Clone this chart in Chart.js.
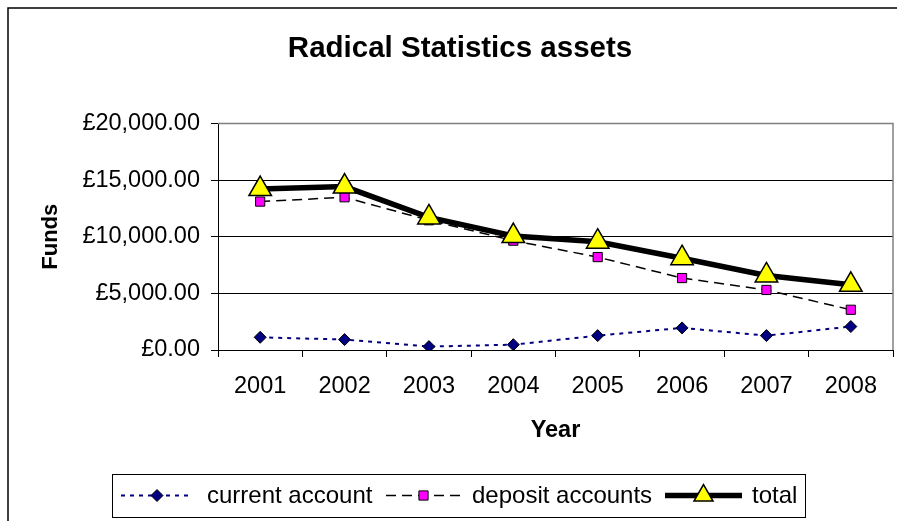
<!DOCTYPE html>
<html>
<head>
<meta charset="utf-8">
<title>Radical Statistics assets</title>
<script src="https://cdn.jsdelivr.net/npm/chart.js@4"></script>
<style>
  html, body { margin: 0; padding: 0; background: #fff; overflow: hidden; }
  #wrap { position: relative; width: 912px; height: 521px; }
</style>
</head>
<body>
<div id="wrap"><canvas id="assets"></canvas></div>
<script>
// chart data
const years = ['2001', '2002', '2003', '2004', '2005', '2006', '2007', '2008'];
const currentAccount = [1120, 920, 300, 470, 1270, 1950, 1270, 2070];
const depositAccounts = [13100, 13480, 11450, 9650, 8200, 6350, 5300, 3550];
const totalFunds = [14200, 14420, 11700, 10060, 9560, 8100, 6580, 5750];
const yTickValues = [0, 5000, 10000, 15000, 20000];
const seriesNames = ['current account', 'deposit accounts', 'total'];

const FONT = "'Liberation Sans', Arial, sans-serif";

function money(v) {
    return '£' + Number(v).toLocaleString('en-GB', { minimumFractionDigits: 2, maximumFractionDigits: 2 });
}

// border round the whole chart (runs off the right and bottom edge)
const outerFrame = {
    id: 'outerFrame',
    beforeDraw(chart) {
        const ctx = chart.ctx;
        ctx.save();
        ctx.strokeStyle = '#000';
        ctx.lineWidth = 1.5;
        ctx.beginPath();
        ctx.moveTo(8, chart.height);
        ctx.lineTo(8, 8);
        ctx.lineTo(chart.width, 8);
        ctx.stroke();
        ctx.restore();
    }
};

// grey top and right edge of the plot area
const plotFrame = {
    id: 'plotFrame',
    beforeDatasetsDraw(chart) {
        const a = chart.chartArea, ctx = chart.ctx;
        ctx.save();
        ctx.strokeStyle = '#808080';
        ctx.lineWidth = 1.5;
        ctx.beginPath();
        ctx.moveTo(a.left, a.top);
        ctx.lineTo(a.right, a.top);
        ctx.lineTo(a.right, a.bottom);
        ctx.stroke();
        ctx.restore();
    }
};

// Excel style legend: line sample with marker in the middle
const lineLegend = {
    id: 'lineLegend',
    afterDraw(chart) {
        const ctx = chart.ctx;
        const box = { x: 112, y: 474, w: 693, h: 43 };
        const cy = box.y + box.h / 2;
        const items = [
            { x0: 121, x1: 193, text: 207, ds: chart.data.datasets[0] },
            { x0: 386, x1: 461, text: 472, ds: chart.data.datasets[1] },
            { x0: 665, x1: 742, text: 752, ds: chart.data.datasets[2] }
        ];
        ctx.save();
        ctx.strokeStyle = '#000';
        ctx.lineWidth = 1;
        ctx.strokeRect(box.x + 0.5, box.y + 0.5, box.w, box.h);
        items.forEach(function (it, i) {
            const ds = it.ds;
            ctx.save();
            ctx.strokeStyle = ds.borderColor;
            ctx.lineWidth = ds.borderWidth;
            ctx.setLineDash(ds.borderDash || []);
            ctx.beginPath();
            ctx.moveTo(it.x0, cy);
            ctx.lineTo(it.x1, cy);
            ctx.stroke();
            ctx.restore();
            ctx.save();
            ctx.fillStyle = ds.pointBackgroundColor;
            ctx.strokeStyle = ds.pointBorderColor;
            ctx.lineWidth = ds.pointBorderWidth;
            Chart.helpers.drawPoint(ctx, {
                pointStyle: ds.pointStyle,
                radius: ds.legendRadius,
                rotation: 0,
                borderWidth: ds.pointBorderWidth
            }, (it.x0 + it.x1) / 2, cy);
            ctx.restore();
            ctx.fillStyle = '#000';
            ctx.font = '24px ' + FONT;
            ctx.textBaseline = 'middle';
            ctx.textAlign = 'left';
            ctx.fillText(seriesNames[i], it.text, cy + 1);
        });
        ctx.restore();
    }
};

var ctx = document.getElementById('assets').getContext('2d');
var assetsChart = new Chart(ctx, {
    type: 'line',
    data: {
        labels: years,
        datasets: [{
            label: seriesNames[0],
            data: currentAccount,
            borderColor: '#000080',
            borderWidth: 2,
            borderDash: [4, 5],
            pointStyle: 'rectRot',
            pointRadius: 6,
            legendRadius: 6,
            pointBackgroundColor: '#000080',
            pointBorderColor: '#000',
            pointBorderWidth: 1,
            order: 2
        }, {
            label: seriesNames[1],
            data: depositAccounts,
            borderColor: '#000',
            borderWidth: 1.5,
            borderDash: [10, 6],
            pointStyle: 'rect',
            pointRadius: 6.5,
            legendRadius: 6.5,
            pointBackgroundColor: '#ff00ff',
            pointBorderColor: '#000',
            pointBorderWidth: 1,
            order: 1
        }, {
            label: seriesNames[2],
            data: totalFunds,
            borderColor: '#000',
            borderWidth: 5.5,
            pointStyle: 'triangle',
            pointRadius: 13,
            legendRadius: 11,
            pointBackgroundColor: '#ffff00',
            pointBorderColor: '#000',
            pointBorderWidth: 1.5,
            order: 0
        }]
    },
    options: {
        responsive: true,
        maintainAspectRatio: false,
        animation: false,
        layout: { padding: { left: 27, right: 19, top: 0, bottom: 0 } },
        elements: { line: { tension: 0 } },
        plugins: {
            legend: { display: false },
            tooltip: { enabled: false },
            title: {
                display: true,
                text: 'Radical Statistics assets',
                color: '#000',
                font: { family: FONT, size: 29.5, weight: 'bold' },
                padding: { top: 31, bottom: 57 }
            }
        },
        scales: {
            x: {
                offset: true,
                grid: { drawOnChartArea: false, offset: true, drawTicks: true, tickLength: 7, tickColor: '#000' },
                border: { display: true, color: '#000', width: 1 },
                ticks: { color: '#000', padding: 15, font: { family: FONT, size: 23.5 }, maxRotation: 0 },
                title: {
                    display: true,
                    text: 'Year',
                    color: '#000',
                    font: { family: FONT, size: 23.5, weight: 'bold' },
                    padding: { top: 0, bottom: 76 }
                },
                afterFit(scale) {
                    scale.height = 171;
                    scale.paddingLeft = 0;
                    scale.paddingRight = 0;
                }
            },
            y: {
                min: 0,
                max: 20000,
                afterBuildTicks(scale) { scale.ticks = yTickValues.map(function (v) { return { value: v }; }); },
                grid: { color: '#000', lineWidth: 1, drawTicks: true, tickLength: 7, tickColor: '#000' },
                border: { display: true, color: '#000', width: 1 },
                ticks: {
                    color: '#000',
                    padding: 11,
                    font: { family: FONT, size: 23.5 },
                    callback: function (v) { return money(v); }
                },
                title: {
                    display: true,
                    text: 'Funds',
                    color: '#000',
                    font: { family: FONT, size: 22, weight: 'bold' },
                    padding: { top: 11, bottom: 0 }
                },
                afterFit(scale) { scale.width = 191; }
            }
        }
    },
    plugins: [outerFrame, plotFrame, lineLegend]
});
</script>
</body>
</html>
